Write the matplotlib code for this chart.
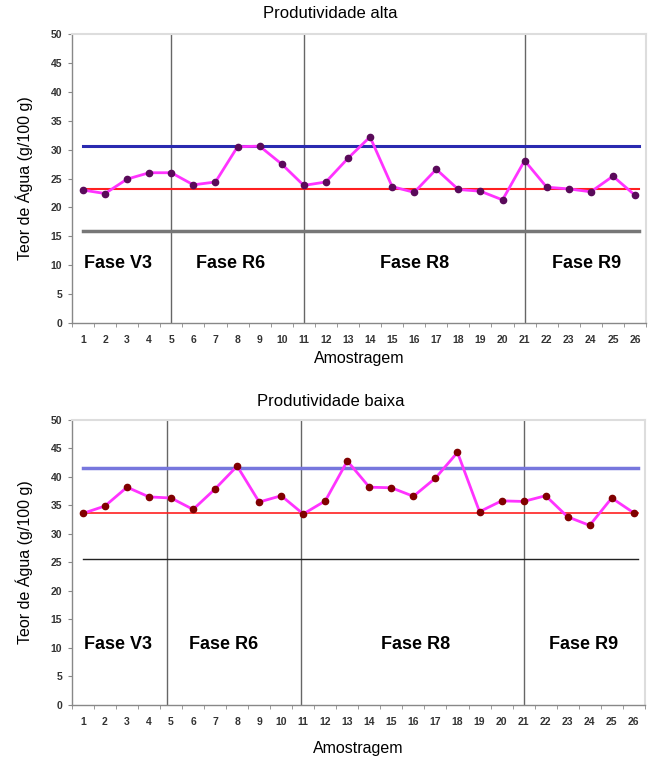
import matplotlib
matplotlib.use("Agg")
import matplotlib.pyplot as plt
import numpy as np

plt.rcParams['font.family'] = ['Liberation Sans', 'DejaVu Sans']

amostras = list(range(1, 27))
alta = [23.0, 22.4, 24.9, 26.0, 26.0, 23.9, 24.4, 30.5, 30.6, 27.5, 23.8, 24.4, 28.5,
        32.2, 23.6, 22.6, 26.6, 23.1, 22.8, 21.3, 28.1, 23.5, 23.2, 22.7, 25.4, 22.1]
baixa = [33.6, 34.9, 38.2, 36.5, 36.3, 34.3, 37.9, 41.9, 35.6, 36.7, 33.5, 35.8, 42.8,
         38.2, 38.1, 36.6, 39.8, 44.3, 33.9, 35.8, 35.7, 36.7, 33.0, 31.5, 36.3, 33.7]

# control lines: upper, mean, lower
alta_lim = [30.7, 23.1, 15.9]
baixa_lim = [41.6, 33.7, 25.6]

fases = ["Fase V3", "Fase R6", "Fase R8", "Fase R9"]
alta_div = [5, 11, 21]
baixa_div = [4.8, 10.9, 21]
alta_fase_x = [2.6, 7.7, 16.0, 23.8]
baixa_fase_x = [2.6, 7.4, 16.1, 23.7]

yticks = list(range(0, 55, 5))

fig = plt.figure(figsize=(6.48, 7.58), dpi=100)

def draw(ax, vals, lims, divs, fx, fy, mcolor, styles, xlpad):
    ax.set_xlim(0.5, 26.5)
    ax.set_ylim(0, 50)
    for d in divs:
        ax.plot([d, d], [0, 50], color='#666666', lw=1.0, zorder=1)
    (uc, uw), (mc, mw), (lc, lw_) = styles
    ax.plot([1, 26.2], [lims[0]] * 2, color=uc, lw=uw, zorder=2)
    ax.plot([1, 26.2], [lims[1]] * 2, color=mc, lw=mw, zorder=2)
    ax.plot([1, 26.2], [lims[2]] * 2, color=lc, lw=lw_, zorder=2)
    ax.plot(amostras, vals, color='#ff33ff', lw=2.0, zorder=3,
            marker='o', ms=4.5, mfc=mcolor, mec=mcolor)
    for name, x in zip(fases, fx):
        ax.text(x, fy, name, ha='center', va='center', fontsize=13,
                fontweight='bold', color='black')
    ax.set_xticks(amostras)
    ax.set_xticklabels([str(a) for a in amostras], fontsize=7.5, color='#333333',
                       fontweight='bold')
    ax.set_xticks(np.arange(0.5, 27, 1), minor=True)
    ax.tick_params(axis='x', which='major', length=0, pad=9)
    ax.tick_params(axis='x', which='minor', length=3, color='#888888', direction='out')
    ax.set_yticks(yticks)
    ax.set_yticklabels([str(y) for y in yticks], fontsize=7.5, color='#333333',
                       fontweight='bold')
    ax.tick_params(axis='y', length=3, color='#888888', direction='out', pad=4)
    for s in ['left', 'bottom']:
        ax.spines[s].set_color('#888888')
        ax.spines[s].set_linewidth(1.0)
    for s in ['top', 'right']:
        ax.spines[s].set_color('#dddddd')
        ax.spines[s].set_linewidth(1.5)
    ax.set_xlabel('Amostragem', fontsize=11.5, labelpad=xlpad)
    ax.set_ylabel('Teor de Água (g/100 g)', fontsize=11.5, labelpad=13)

ax1 = fig.add_axes([0.111, 0.574, 0.886, 0.381])
draw(ax1, alta, alta_lim, alta_div, alta_fase_x, 10.3, '#5a0a5a',
     [('#2a2ab0', 2.2), ('#ff2020', 1.5), ('#777777', 2.5)], 4)
fig.text(330 / 648, 1 - 13 / 758, 'Produtividade alta', ha='center', va='center',
         fontsize=12)

ax2 = fig.add_axes([0.111, 0.070, 0.884, 0.376])
draw(ax2, baixa, baixa_lim, baixa_div, baixa_fase_x, 10.6, '#800000',
     [('#7777dd', 2.5), ('#ff2020', 1.2), ('#222222', 1.0)], 10)
fig.text(331 / 648, 1 - 401 / 758, 'Produtividade baixa', ha='center', va='center',
         fontsize=12)

fig.savefig('out.png', dpi=100)
